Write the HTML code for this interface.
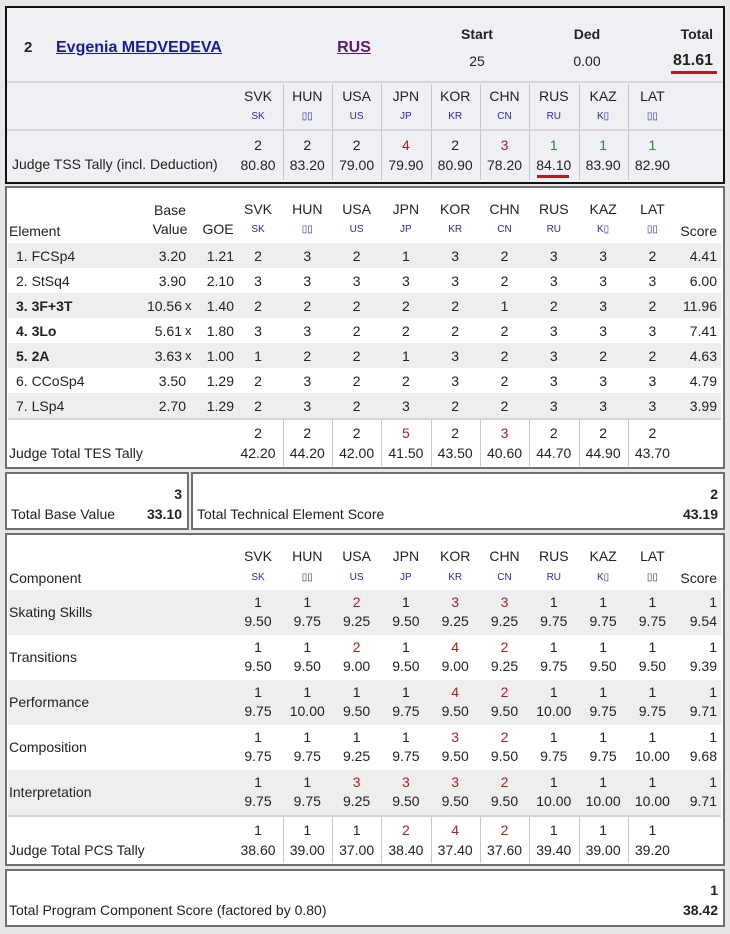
<!DOCTYPE html>
<html><head><meta charset="utf-8">
<style>
body{margin:0;width:730px;height:934px;background:#e6e7e9;position:relative;overflow:hidden;font-family:"Liberation Sans","Noto Sans CJK SC",sans-serif;font-size:14px;color:#222}
.box{position:absolute;background:#fff;box-sizing:border-box;border:2px solid #707070}
.t{position:absolute;white-space:nowrap;line-height:16px;height:16px}
.c{transform:translateX(-50%)}
.r{transform:translateX(-100%)}
.sm{font-size:10px;color:#2a2aa0}
.shade{position:absolute;background:#eeeeee}
.vl{position:absolute;width:1px;background:#c8c8c8}
.hl{position:absolute;height:2px;background:#d4d6d9}
</style></head><body>
<div class="box" style="left:5px;top:6px;width:720px;height:178px;background:#eef0f3;border:2px solid #111"></div>
<div class="box" style="left:5px;top:186px;width:720px;height:283px"></div>
<div class="box" style="left:5px;top:472px;width:184px;height:58px"></div>
<div class="box" style="left:191px;top:472px;width:534px;height:58px"></div>
<div class="box" style="left:5px;top:533px;width:720px;height:333px"></div>
<div class="box" style="left:5px;top:869px;width:720px;height:58px"></div>
<div id="root"></div>
<script>
const judges=["SVK","HUN","USA","JPN","KOR","CHN","RUS","KAZ","LAT"];
const judgeCodes=["SK","\u25AF\u25AF","US","JP","KR","CN","RU","K\u25AF","\u25AF\u25AF"];
const tssRank=[2,2,2,4,2,3,1,1,1];
const tssVals=["80.80","83.20","79.00","79.90","80.90","78.20","84.10","83.90","82.90"];
const elNames=["1. FCSp4","2. StSq4","3. 3F+3T","4. 3Lo","5. 2A","6. CCoSp4","7. LSp4"];
const elBold=[false,false,true,true,true,false,false];
const elBase=["3.20","3.90","10.56","5.61","3.63","3.50","2.70"];
const elX=[false,false,true,true,true,false,false];
const elGoe=["1.21","2.10","1.40","1.80","1.00","1.29","1.29"];
const elScores=[[2,3,2,1,3,2,3,3,2],[3,3,3,3,3,2,3,3,3],[2,2,2,2,2,1,2,3,2],[3,3,2,2,2,2,3,3,3],[1,2,2,1,3,2,3,2,2],[2,3,2,2,3,2,3,3,3],[2,3,2,3,2,2,3,3,3]];
const elTotal=["4.41","6.00","11.96","7.41","4.63","4.79","3.99"];
const tesRank=[2,2,2,5,2,3,2,2,2];
const tesVals=["42.20","44.20","42.00","41.50","43.50","40.60","44.70","44.90","43.70"];
const compNames=["Skating Skills","Transitions","Performance","Composition","Interpretation"];
const compRank=[[1,1,2,1,3,3,1,1,1],[1,1,2,1,4,2,1,1,1],[1,1,1,1,4,2,1,1,1],[1,1,1,1,3,2,1,1,1],[1,1,3,3,3,2,1,1,1]];
const compVals=[["9.50","9.75","9.25","9.50","9.25","9.25","9.75","9.75","9.75"],["9.50","9.50","9.00","9.50","9.00","9.25","9.75","9.50","9.50"],["9.75","10.00","9.50","9.75","9.50","9.50","10.00","9.75","9.75"],["9.75","9.75","9.25","9.75","9.50","9.50","9.75","9.75","10.00"],["9.75","9.75","9.25","9.50","9.50","9.50","10.00","10.00","10.00"]];
const compScore=["9.54","9.39","9.71","9.68","9.71"];
const pcsRank=[1,1,1,2,4,2,1,1,1];
const pcsVals=["38.60","39.00","37.00","38.40","37.40","37.60","39.40","39.00","39.20"];

const colX=i=>258+i*49.3;
const root=document.getElementById('root');
function t(x,y,txt,cls,style){
  const d=document.createElement('div');
  d.className='t '+(cls||'');
  d.style.left=x+'px';d.style.top=(y-8)+'px';
  if(style)d.style.cssText+=style;
  d.textContent=txt;root.appendChild(d);return d;
}
function rect(cls,x,y,w,h){
  const d=document.createElement('div');d.className=cls;
  d.style.left=x+'px';d.style.top=y+'px';d.style.width=w+'px';if(h)d.style.height=h+'px';
  root.appendChild(d);return d;
}
const red='#b02020',green='#2a8a2a';
function rankColor(r,mode){
  if(mode==='tss')return r===1?green:(r>=3?red:'#222');
  if(mode==='tes')return r>=3?red:'#222';
  return r>=2?red:'#222';
}
function judgeHeader(y1,y2,pref){
  judges.forEach((j,i)=>{
    let e=t(colX(i),y1,j,'c');
    
    
    let s=t(colX(i),y2,judgeCodes[i],'c sm');
    
    
  });
}
function tally(top,h,ranks,vals,mode,name){
  for(let i=1;i<9;i++){let v=rect('vl',colX(i)-24.5,top,1,h);
    
    }
  ranks.forEach((r,i)=>{
    let e=t(colX(i),top+13,String(r),'c','color:'+rankColor(r,mode));
    
    
    let v=t(colX(i),top+33,vals[i],'c');
    
    
  });
}
// Box 1
let e;
e=t(24,48,'2','', 'font-weight:bold;font-size:15px');
e=t(56,48,'Evgenia MEDVEDEVA','','font-weight:bold;font-size:16px;color:#1a1aa0;text-decoration:underline');
e=t(354,48,'RUS','c','font-weight:bold;font-size:16px;color:#5a1a6a;text-decoration:underline');
e=t(477,34,'Start','c','font-weight:bold');
e=t(477,61,'25','c');
e=t(587,34,'Ded','c','font-weight:bold');
e=t(587,61,'0.00','c');
e=t(713,34,'Total','r','font-weight:bold');
e=t(713,61,'81.61','r','font-weight:bold;font-size:16px');
e=rect('hl',671,71,46,3);e.style.background=red;
e=rect('hl',7,81,716,2);
e=rect('hl',7,129,716,2);
judgeHeader(96,117,'tss');
for(let i=1;i<9;i++){let v=rect('vl',colX(i)-24.5,84,1,96);}
tally(132,48,tssRank,tssVals,'tss','tss');
document.querySelectorAll('.vl').forEach(v=>{if(parseInt(v.style.top)===132)v.remove();});
e=t(12,164,'Judge TSS Tally (incl. Deduction)');
e=rect('hl',537,175,32,3);e.style.background=red;

// Box 2
e=t(170,210,'Base','c');
e=t(170,229,'Value','c');
e=t(218,229,'GOE','c');
e=t(9,231,'Element');
e=t(717,231,'Score','r');
judgeHeader(209,230,'el');
elNames.forEach((n,r)=>{
  const y=243+r*25;
  if(r%2===0){let s=rect('shade',8,y,713,25);}
  const cy=y+13;
  e=t(16,cy,n,'',elBold[r]?'font-weight:bold':'');
  e=t(elX[r]?182:186,cy,elBase[r],'r');
  if(elX[r]){e=t(185,cy,'x','','font-size:13px');}
  e=t(234,cy,elGoe[r],'r');
  elScores[r].forEach((v,i)=>{e=t(colX(i),cy,String(v),'c');});
  e=t(717,cy,elTotal[r],'r');
});
e=rect('hl',8,418,713,2);
tally(420,46,tesRank,tesVals,'tes','tes');
e=t(9,453,'Judge Total TES Tally');

// Box 3
e=t(182,494,'3','r','font-weight:bold');
e=t(11,514,'Total Base Value');
e=t(182,514,'33.10','r','font-weight:bold');
e=t(718,494,'2','r','font-weight:bold');
e=t(197,514,'Total Technical Element Score');
e=t(718,514,'43.19','r','font-weight:bold');

// Box 4
judgeHeader(556,578,'pcs');
e=t(9,578,'Component');
e=t(717,578,'Score','r');
compNames.forEach((n,r)=>{
  const y=590+r*45;
  if(r%2===0){let s=rect('shade',8,y,713,45);}
  e=t(9,y+22,n);
  compRank[r].forEach((v,i)=>{
    e=t(colX(i),y+12,String(v),'c','color:'+rankColor(v,'pcs'));
    e=t(colX(i),y+31,compVals[r][i],'c');
  });
  e=t(717,y+12,'1','r');
  e=t(717,y+31,compScore[r],'r');
});
e=rect('hl',8,815,713,2);
tally(817,46,pcsRank,pcsVals,'pcs','pcs');
e=t(9,850,'Judge Total PCS Tally');

// Box 5
e=t(718,890,'1','r','font-weight:bold');
e=t(9,910,'Total Program Component Score (factored by 0.80)');
e=t(718,910,'38.42','r','font-weight:bold');
</script>
</body></html>
